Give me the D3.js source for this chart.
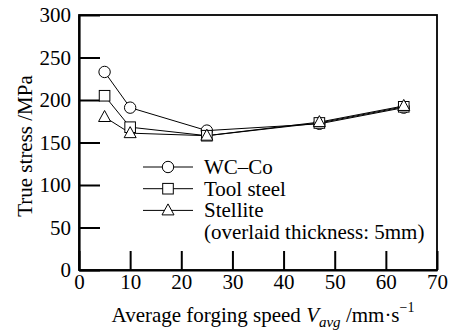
<!DOCTYPE html>
<html>
<head>
<meta charset="utf-8">
<script src="https://cdn.jsdelivr.net/npm/d3@7"></script>
<style>
  body { margin: 0; background: #fff; }
  text { font-family: "Liberation Serif", "Times New Roman", "DejaVu Serif", serif; fill: #000; }
</style>
</head>
<body>
<svg id="chart" width="451" height="336"></svg>
<script>
// data
const speeds = [5, 10, 25, 47, 63.5]
const wcCo = [233, 191, 164, 172, 191]
const toolSteel = [205, 168, 158, 173, 192]
const stellite = [180, 161, 158, 174, 193]
const seriesNames = ["WC\u2013Co", "Tool steel", "Stellite"]
const seriesShapes = ["circle", "square", "triangle"]
const xTicks = [0, 10, 20, 30, 40, 50, 60, 70]
const yTicks = [0, 50, 100, 150, 200, 250, 300]

const svg = d3.select("#chart")
const plotL = 79, plotR = 437, plotT = 15, plotB = 270
const fs = 21

const x = d3.scaleLinear().domain([0, 70]).range([plotL, plotR])
const y = d3.scaleLinear().domain([0, 300]).range([plotB, plotT])

const series = [wcCo, toolSteel, stellite].map((vals, i) => ({
  name: seriesNames[i],
  shape: seriesShapes[i],
  pts: vals.map((v, j) => ({ x: speeds[j], y: v }))
}))

// frame
svg.append("rect")
  .attr("x", plotL).attr("y", plotT)
  .attr("width", plotR - plotL).attr("height", plotB - plotT)
  .attr("fill", "none").attr("stroke", "#000").attr("stroke-width", 1.8)

// axes with inward ticks
const xAxis = svg.append("g").attr("transform", `translate(0,${plotB})`)
  .call(d3.axisBottom(x).tickValues(xTicks).tickSizeInner(-19).tickSizeOuter(0).tickPadding(19))
const yAxis = svg.append("g").attr("transform", `translate(${plotL},0)`)
  .call(d3.axisLeft(y).tickValues(yTicks).tickSizeInner(-21).tickSizeOuter(0).tickPadding(8))
;[xAxis, yAxis].forEach((g) => {
  g.attr("font-family", null).attr("font-size", null)
  g.select(".domain").attr("stroke", "#000").attr("stroke-width", 2.2)
  g.selectAll(".tick line").attr("stroke", "#000").attr("stroke-width", 2)
  g.selectAll(".tick text").attr("font-size", fs).attr("fill", "#000")
})
yAxis.selectAll(".tick text").attr("dy", "0.33em")
xAxis.selectAll(".tick text").attr("dy", "0")

// lines
const line = d3.line().x((d) => x(d.x)).y((d) => y(d.y))
series.forEach((s) => {
  svg.append("path").datum(s.pts).attr("d", line)
    .attr("fill", "none").attr("stroke", "#000").attr("stroke-width", 1)
})

function drawMarker(g, shape, cx, cy) {
  if (shape === "circle") {
    g.append("circle").attr("cx", cx).attr("cy", cy).attr("r", 5.7)
      .attr("fill", "#fff").attr("stroke", "#000").attr("stroke-width", 1)
  } else if (shape === "square") {
    g.append("rect").attr("x", cx - 5.3).attr("y", cy - 5.3).attr("width", 10.6).attr("height", 10.6)
      .attr("fill", "#fff").attr("stroke", "#000").attr("stroke-width", 1)
  } else {
    g.append("path").attr("d", `M${cx},${cy - 6.5}L${cx + 6},${cy + 4.5}L${cx - 6},${cy + 4.5}Z`)
      .attr("fill", "#fff").attr("stroke", "#000").attr("stroke-width", 1)
  }
}

const marks = svg.append("g")
series.forEach((s) => {
  s.pts.forEach((p) => drawMarker(marks, s.shape, x(p.x), y(p.y)))
})

// legend
const legend = svg.append("g")
const lx0 = 143, lx1 = 193, lmid = 168, ltext = 204
series.forEach((s, i) => {
  const ly = 167 + i * 21.7
  legend.append("line").attr("x1", lx0).attr("x2", lx1).attr("y1", ly).attr("y2", ly)
    .attr("stroke", "#000").attr("stroke-width", 1)
  drawMarker(legend, s.shape, lmid, ly)
  legend.append("text").attr("x", ltext).attr("y", ly).attr("dy", "0.33em")
    .attr("font-size", fs).text(s.name)
})
legend.append("text").attr("x", ltext).attr("y", 232.5).attr("dy", "0.33em")
  .attr("font-size", fs).text("(overlaid thickness: 5mm)")

// axis titles
svg.append("text")
  .attr("transform", `translate(32,146) rotate(-90)`)
  .attr("text-anchor", "middle").attr("font-size", fs)
  .text("True stress /MPa")

const xt = svg.append("text").attr("x", 263).attr("y", 322)
  .attr("text-anchor", "middle").attr("font-size", fs)
xt.append("tspan").text("Average forging speed ")
xt.append("tspan").attr("font-style", "italic").text("V")
xt.append("tspan").attr("font-style", "italic").attr("font-size", 15).attr("dy", 5).text("avg")
xt.append("tspan").attr("dy", -5).text(" /mm\u00b7s")
xt.append("tspan").attr("font-size", 14).attr("dy", -10).text("\u22121")
</script>
</body>
</html>
